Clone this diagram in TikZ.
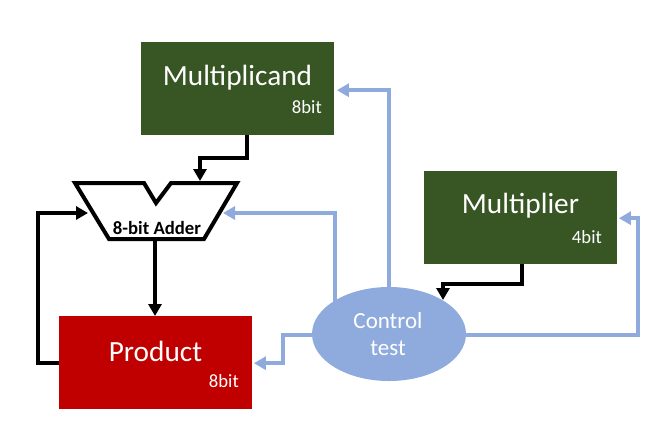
\documentclass[tikz,border=0pt]{standalone}
\usepackage{fontspec}
\setmainfont{Carlito}
\usetikzlibrary{arrows.meta,shapes.geometric,calc}
\definecolor{dgreen}{HTML}{375623}
\definecolor{pred}{HTML}{C00000}
\definecolor{cblue}{HTML}{8FAADC}
\begin{document}
\begin{tikzpicture}[x=1bp,y=-1bp,
  regbox/.style={draw=none, minimum width=193bp, minimum height=93bp, inner sep=0pt, anchor=north west},
  bigtxt/.style={text=white, anchor=base, inner sep=0pt, font=\fontsize{29.3bp}{32bp}\selectfont},
  smalltxt/.style={text=white, anchor=base east, inner sep=0pt, font=\fontsize{18.7bp}{21bp}\selectfont},
  ctltxt/.style={text=white, anchor=base, inner sep=0pt, font=\fontsize{23bp}{26bp}\selectfont},
  blk/.style={draw=black, line width=4bp, -{Triangle[length=12bp,width=13bp]}},
  blu/.style={draw=cblue, line width=4bp, -{Triangle[length=12bp,width=13bp]}},
  addshape/.style={draw=black, line width=4bp, line join=miter, fill=white}
]
\useasboundingbox (0,0) rectangle (671,432);

% boxes
\node[regbox, fill=dgreen] (mcand) at (141,42) {};
\node[regbox, fill=dgreen] (mplier) at (424,171) {};
\node[regbox, fill=pred] (prod) at (59,316) {};
\node[ellipse, fill=cblue, minimum width=154bp, minimum height=94bp, inner sep=0pt] (ctl) at (389,334) {};

% labels
\node[bigtxt] (mcandt) at (237.5,85) {Multiplicand};
\node[smalltxt] (mcandb) at (322,113) {8bit};
\node[bigtxt] (mplt) at (520.5,213) {Multiplier};
\node[smalltxt] (mplb) at (602,243) {4bit};
\node[bigtxt] (prodt) at (155.5,361) {Product};
\node[smalltxt] (prodb) at (239,387) {8bit};
\node[ctltxt] (ctl1) at (388,328) {Control};
\node[ctltxt] (ctl2) at (388,355) {test};

% adder
\draw[addshape] (75,183) -- (144,183) -- (156,203) -- (171,183) -- (237,183)
  -- (204,239) -- (109,239) -- cycle;
\node[anchor=base, inner sep=0pt, font=\bfseries\fontsize{18.7bp}{21bp}\selectfont] (adder) at (157,234) {8-bit Adder};
\coordinate (addtop) at (200,181);
\coordinate (addbot) at (155,241);
\coordinate (addleft) at (88,213);
\coordinate (addright) at (223,213);
\coordinate (ctlin) at (443,300);

% black connectors
\draw[blk] ($(mcand.south)+(9.5,0)$) -- ++(0,23) -| (addtop);
\draw[blk] (addbot) -- (addbot |- prod.north);
\draw[blk] ($(prod.west)+(0,0.5)$) -- ++(-21,0) |- (addleft);
\draw[blk] ($(mplier.south)+(1.5,0)$) -- ++(0,19.5) -| (ctlin);

% blue connectors
\draw[blu] ($(ctl.north)+(0,8)$) |- ($(mcand.east)+(2.5,1.5)$);
\draw[blu] ($(ctl.north)+(-54,18)$) |- (addright);
\draw[blu] ($(ctl.east)+(-2,1)$) -- ++(174,0) |- ($(mplier.east)+(1.5,0.5)$);
\draw[blu] ($(ctl.west)+(2,1)$) -- ++(-31,0) |- ($(prod.east)+(1.5,0.5)$);
\end{tikzpicture}
\end{document}
